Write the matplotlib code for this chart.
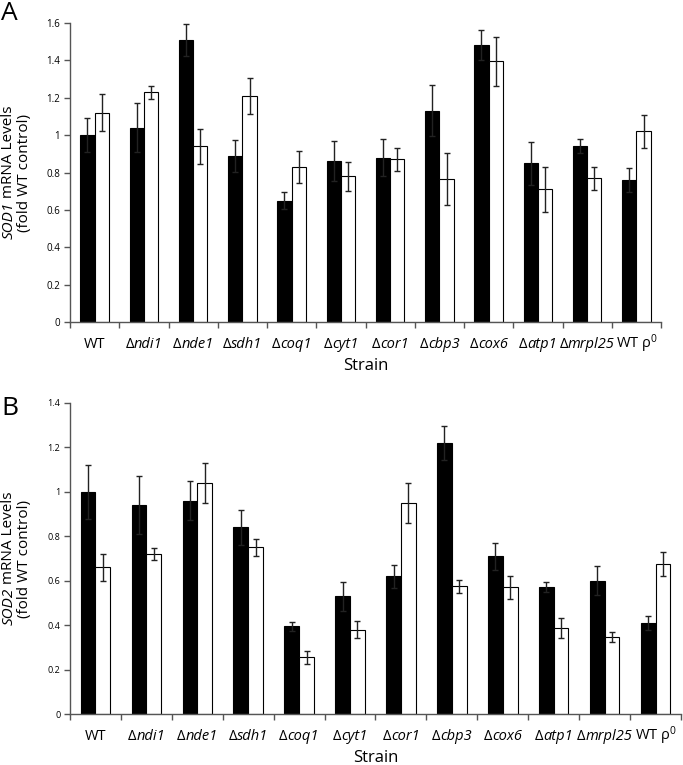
import matplotlib
matplotlib.use('Agg')
import matplotlib.pyplot as plt
import numpy as np

plt.rcParams['font.family'] = ['Open Sans', 'DejaVu Sans']
plt.rcParams['mathtext.fontset'] = 'custom'
plt.rcParams['mathtext.rm'] = 'Open Sans'
plt.rcParams['mathtext.it'] = 'Open Sans:italic'

# strain names (italic part after the delta)
strains = ['WT', 'ndi1', 'nde1', 'sdh1', 'coq1', 'cyt1', 'cor1',
           'cbp3', 'cox6', 'atp1', 'mrpl25', 'WT rho0']

# panel A: SOD1
sod1_black = [1.00, 1.04, 1.51, 0.89, 0.65, 0.86, 0.88, 1.13, 1.48, 0.85, 0.94, 0.76]
sod1_black_err = [0.09, 0.13, 0.085, 0.085, 0.045, 0.107, 0.10, 0.137, 0.08, 0.115, 0.037, 0.062]
sod1_white = [1.12, 1.23, 0.94, 1.21, 0.83, 0.78, 0.87, 0.765, 1.395, 0.71, 0.77, 1.02]
sod1_white_err = [0.10, 0.035, 0.095, 0.097, 0.085, 0.077, 0.062, 0.137, 0.13, 0.12, 0.062, 0.09]

# panel B: SOD2
sod2_black = [1.00, 0.94, 0.96, 0.84, 0.395, 0.53, 0.62, 1.22, 0.71, 0.57, 0.60, 0.41]
sod2_black_err = [0.12, 0.13, 0.087, 0.078, 0.02, 0.066, 0.051, 0.078, 0.06, 0.022, 0.066, 0.031]
sod2_white = [0.66, 0.72, 1.04, 0.75, 0.255, 0.38, 0.95, 0.575, 0.57, 0.385, 0.345, 0.675]
sod2_white_err = [0.06, 0.026, 0.092, 0.04, 0.03, 0.04, 0.088, 0.029, 0.051, 0.045, 0.023, 0.054]


def label_segments(s):
    # (text, style) pieces so that only the gene name is italic
    if s == 'WT':
        return [('WT', 'normal')]
    if s == 'WT rho0':
        return [('WT \u03c1$^0$', 'normal')]
    return [('\u0394', 'normal'), (s, 'italic')]


def seg_text(ax, xy, xycoords, segments, fs, rotation=0, perp=0):
    # draws pieces of text one after the other, centred on xy
    fig = ax.figure
    r = fig.canvas.get_renderer()
    widths = []
    for s, st in segments:
        t = fig.text(0, 0, s, fontsize=fs, style=st)
        widths.append(t.get_window_extent(r).width * 72 / fig.dpi)
        t.remove()
    off = -sum(widths) / 2
    for (s, st), w in zip(segments, widths):
        xt = (off, perp) if rotation == 0 else (perp, off)
        ax.annotate(s, xy=xy, xycoords=xycoords, xytext=xt, textcoords='offset points',
                    fontsize=fs, style=st, ha='left', va='baseline',
                    rotation=rotation, rotation_mode='anchor', annotation_clip=False)
        off += w


def draw(ax, black, black_err, white, white_err, ymax, gene, ytfs):
    x = np.arange(len(strains))
    w = 0.29
    ax.bar(x - w / 2, black, w, color='black', edgecolor='black', linewidth=0.8)
    ax.bar(x + w / 2, white, w, color='white', edgecolor='black', linewidth=0.8)
    ekw = dict(fmt='none', ecolor='#222222', elinewidth=1, capsize=2, capthick=1)
    ax.errorbar(x - w / 2, black, yerr=black_err, **ekw)
    ax.errorbar(x + w / 2, white, yerr=white_err, **ekw)

    ax.set_xlim(-0.5, len(strains) - 0.5)
    ax.set_ylim(0, ymax)
    yt = np.round(np.arange(0, ymax + 0.01, 0.2), 1)
    ax.set_yticks(yt)
    ax.set_yticklabels(['%g' % v for v in yt], fontsize=ytfs)

    # ticks at group boundaries, labels drawn under group centres
    ax.set_xticks(np.arange(-0.5, len(strains)))
    ax.set_xticklabels([])
    ax.tick_params(axis='x', length=4, width=1, color='#555555')
    ax.tick_params(axis='y', length=4, width=1, color='#555555', pad=3)

    for side in ['top', 'right']:
        ax.spines[side].set_visible(False)
    for side in ['left', 'bottom']:
        ax.spines[side].set_color('#555555')
        ax.spines[side].set_linewidth(1)

    tr = ax.get_xaxis_transform()
    for i, s in enumerate(strains):
        seg_text(ax, (i, 0), tr, label_segments(s), 10.5, perp=-19)
    ax.annotate('Strain', xy=(0.5, 0), xycoords='axes fraction', xytext=(0, -34.5),
                textcoords='offset points', fontsize=12, ha='center', va='baseline',
                annotation_clip=False)

    # y label: two lines, first one with italic gene name
    seg_text(ax, (0, 0.5), 'axes fraction',
             [(gene, 'italic'), (' mRNA Levels', 'normal')], 11, rotation=90, perp=-41.5)
    ax.annotate('(fold WT control)', xy=(0, 0.5), xycoords='axes fraction',
                xytext=(-30.5, 0), textcoords='offset points', fontsize=11,
                ha='center', va='baseline', rotation=90, rotation_mode='anchor',
                annotation_clip=False)


fig = plt.figure(figsize=(6.83, 7.65), dpi=100)
axA = fig.add_axes([70 / 683, 1 - 322 / 765, 591 / 683, 299 / 765])
axB = fig.add_axes([70 / 683, 1 - 714 / 765, 611 / 683, 311 / 765])

draw(axA, sod1_black, sod1_black_err, sod1_white, sod1_white_err, 1.6, 'SOD1', 7)
draw(axB, sod2_black, sod2_black_err, sod2_white, sod2_white_err, 1.4, 'SOD2', 6.5)

fig.text(0.002, 1 - 1 / 765, 'A', fontsize=19, va='top', ha='left')
fig.text(0.002, 1 - 396 / 765, 'B', fontsize=19, va='top', ha='left')

fig.savefig('out.png', dpi=100)
